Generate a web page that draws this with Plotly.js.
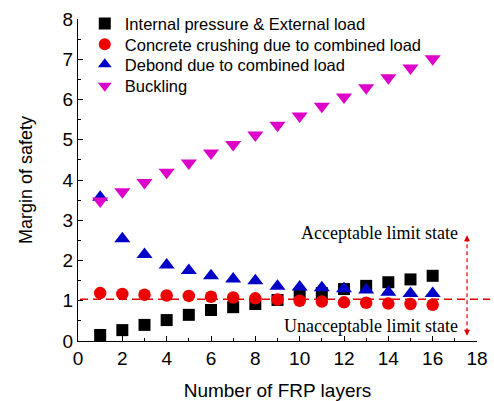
<!DOCTYPE html>
<html><head><meta charset="utf-8">
<script src="https://cdn.plot.ly/plotly-3.0.1.min.js"></script>
<style>html,body{margin:0;padding:0;background:#fff}#chart{width:494px;height:401px}</style>
</head><body><div id="chart"></div>
<script>
const layers = [1,2,3,4,5,6,7,8,9,10,11,12,13,14,15,16];
const internalExternal = [0.15,0.27,0.40,0.52,0.65,0.77,0.84,0.92,1.02,1.15,1.19,1.29,1.37,1.46,1.53,1.62];
const concreteCrushing = [1.19,1.17,1.15,1.13,1.12,1.10,1.08,1.06,1.03,1.00,0.98,0.96,0.95,0.93,0.92,0.90];
const debond = [3.57,2.54,2.15,1.89,1.75,1.62,1.54,1.50,1.36,1.34,1.32,1.30,1.27,1.21,1.18,1.18];
const buckling = [3.48,3.71,3.94,4.19,4.42,4.67,4.88,5.12,5.36,5.59,5.83,6.06,6.29,6.54,6.78,7.01];
const seriesNames = ["Internal pressure & External load","Concrete crushing due to combined load","Debond due to combined load","Buckling"];
const limitValue = 1.04;

const sans = "Liberation Sans, Arial, sans-serif";
const serif = "Liberation Serif, Times New Roman, serif";

const traces = [
  {x: layers, y: internalExternal, name: seriesNames[0], mode: "markers", type: "scatter", legend: "legend",
   marker: {symbol: "square", size: 12, color: "#000000"}},
  {x: layers, y: concreteCrushing, name: seriesNames[1], mode: "markers", type: "scatter", legend: "legend2",
   marker: {symbol: "circle", size: 12.5, color: "#ee0000"}},
  {x: layers, y: debond, name: seriesNames[2], mode: "markers", type: "scatter", legend: "legend3",
   marker: {symbol: "triangle-up", size: 14, color: "#0000c8"}},
  {x: layers, y: buckling, name: seriesNames[3], mode: "markers", type: "scatter", legend: "legend4",
   marker: {symbol: "triangle-down", size: 14, color: "#dd00c8"}}
];

const axisCommon = {
  showline: true, linecolor: "#000", linewidth: 1, showgrid: false, zeroline: false,
  ticks: "inside", ticklen: 5, tickcolor: "#000", tickwidth: 1,
  tickfont: {family: sans, size: 19, color: "#000"}
};

function leg(yc) {
  return {x: 0.017, y: yc, xanchor: "left", yanchor: "middle", bgcolor: "rgba(0,0,0,0)",
    font: {family: sans, size: 16.5, color: "#000"}, itemsizing: "constant"};
}

const layout = {
  width: 494, height: 401,
  margin: {l: 78, r: 17, t: 19, b: 60, autoexpand: false},
  paper_bgcolor: "#fff", plot_bgcolor: "#fff",
  showlegend: true,
  legend: leg(0.985),
  legend2: leg(0.921),
  legend3: leg(0.859),
  legend4: leg(0.792),
  xaxis: Object.assign({}, axisCommon, {range: [0, 18], dtick: 2, tick0: 0,
    minor: {dtick: 1, ticks: "inside", ticklen: 3, tickcolor: "#000"},
    title: {text: "Number of FRP layers", font: {family: sans, size: 19, color: "#000"}, standoff: 18}}),
  yaxis: Object.assign({}, axisCommon, {range: [0, 8], dtick: 1, tick0: 0,
    minor: {dtick: 0.5, ticks: "inside", ticklen: 3, tickcolor: "#000"},
    title: {text: "Margin of safety", font: {family: sans, size: 18, color: "#000"}, standoff: 25}}),
  shapes: [
    {type: "line", xref: "paper", yref: "y", x0: 0.005, x1: 1.033, y0: limitValue, y1: limitValue,
     line: {color: "#e00000", width: 1.5, dash: "8px,5px"}},
    {type: "line", xref: "x", yref: "y", x0: 17.55, x1: 17.55, y0: 0.22, y1: 2.55,
     line: {color: "#e00000", width: 1.2, dash: "4px,3px"}}
  ],
  annotations: [
    {x: 17.25, y: 2.68, xref: "x", yref: "y", xanchor: "right", yanchor: "middle", showarrow: false,
     text: "Acceptable limit state", font: {family: serif, size: 18, color: "#000"}},
    {x: 17.25, y: 0.37, xref: "x", yref: "y", xanchor: "right", yanchor: "middle", showarrow: false,
     text: "Unacceptable limit state", font: {family: serif, size: 18, color: "#000"}},
    {x: 17.55, y: 2.63, xref: "x", yref: "y", showarrow: true, ax: 0, ay: 8, arrowhead: 2,
     arrowsize: 1, arrowwidth: 1.2, arrowcolor: "#e00000", text: ""},
    {x: 17.55, y: 0.13, xref: "x", yref: "y", showarrow: true, ax: 0, ay: -8, arrowhead: 2,
     arrowsize: 1, arrowwidth: 1.2, arrowcolor: "#e00000", text: ""}
  ]
};

Plotly.newPlot("chart", traces, layout, {displayModeBar: false, staticPlot: true});
</script></body></html>
